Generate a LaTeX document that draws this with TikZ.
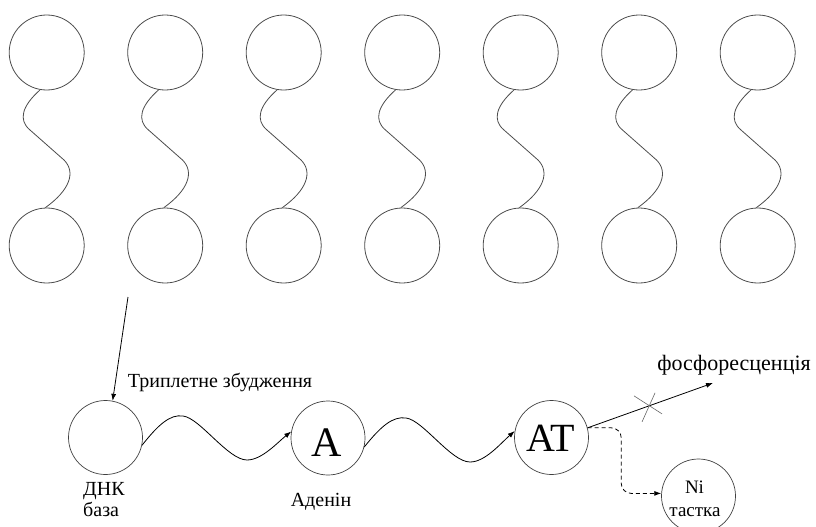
\documentclass[tikz,border=0pt]{standalone}
\usepackage{fontspec}
\setmainfont{Liberation Serif}
\usetikzlibrary{arrows.meta,calc}
\begin{document}
\begin{tikzpicture}[x=1pt,y=-1pt,
  topcirc/.style={circle,draw=black!70,line width=0.8pt,minimum size=75pt,inner sep=0pt},
  botcirc/.style={circle,draw=black!75,line width=0.7pt,minimum size=74pt,inner sep=0pt},
  wavy/.style={draw=black!70,line width=0.8pt},
  arr/.style={draw=black,line width=0.8pt,-{Latex[length=7pt,width=5pt]}},
  lbl/.style={font=\fontsize{20}{22}\selectfont,inner sep=0pt}]
\useasboundingbox (0,0) rectangle (816,527);
% top chains
\foreach \i in {0,...,6}{
  \pgfmathsetmacro\cx{46.7+118.5*\i}
  \node[topcirc] (t\i) at (\cx,52.5) {};
  \node[topcirc] (b\i) at (\cx,245.5) {};
  \begin{scope}[shift={(\cx,0)}]
    \draw[wavy] (t\i.-100) .. controls (-24.7,106) and (-28.7,120) .. (-16.7,130)
       -- (17.3,160) .. controls (29.3,172) and (23.3,190) .. (b\i.92);
  \end{scope}
}
% bottom row
\node[botcirc] (d) at (105.5,437.5) {};
\node[botcirc] (a) at (328,438) {};
\node[font=\fontsize{42}{42}\selectfont,inner sep=0pt,anchor=base] (atxt) at (327,456) {A};
\node[botcirc] (at) at (551.5,437.5) {};
\node[font=\fontsize{40}{40}\selectfont,inner sep=0pt,anchor=base] (attxt) at (550.5,451.5) {AT};
\node[botcirc] (ni) at (698.5,496) {};
\node[lbl,font=\fontsize{19}{20}\selectfont,anchor=base] (nitxt) at (694.5,493) {Ni};
\node[lbl,font=\fontsize{19}{20}\selectfont,anchor=base] (tastka) at (695,516) {тастка};
% labels
\node[lbl,anchor=base] (trip) at (220,387) {Триплетне збудження};
\node[lbl,anchor=base west] (dnk) at (83,495) {ДНК};
\node[lbl,anchor=base west] (baza) at (83,516) {база};
\node[lbl,anchor=base] (aden) at (321,506) {Аденін};
\node[lbl,font=\fontsize{22}{24}\selectfont,anchor=base] (phos) at (734,370) {фосфоресценція};
% arrows
\coordinate (src) at (128,297);
\draw[arr] (src) -- (d.79);
\draw[arr] (d.-12) .. controls (158,425) and (170,414) .. (183,416)
   .. controls (200,418) and (228,460) .. (247,460)
   .. controls (262,460) and (278,442) .. (a.170);
\draw[arr] (a.-14) .. controls (381,426) and (393,416) .. (406,418)
   .. controls (423,420) and (451,462) .. (470,462)
   .. controls (485,462) and (500,444) .. (at.170);
\coordinate (phend) at (713,383);
\draw[arr] (at.15) -- (phend);
\coordinate (xm) at ($(at.15)!0.49!(phend)$);
\draw[black!60,line width=0.6pt] ($(xm)+(-15,-10)$) -- ($(xm)+(13,8)$);
\draw[black!60,line width=0.6pt] ($(xm)+(-7,16)$) -- ($(xm)+(6,-13)$);
\draw[arr,dashed,dash pattern=on 4pt off 3pt,rounded corners=10pt] (at.15) -| ($(ni.176)+(-40,0)$) -- (ni.176);
\end{tikzpicture}
\end{document}
